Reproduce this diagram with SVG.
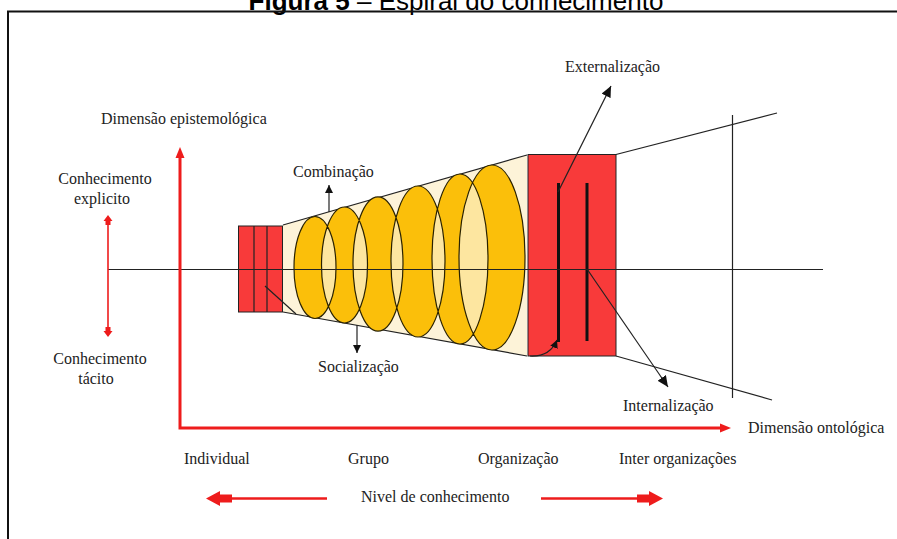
<svg xmlns="http://www.w3.org/2000/svg" width="897" height="539" viewBox="0 0 897 539">
<style>
.t{font-family:"Liberation Serif","Times New Roman",serif;font-size:16px;fill:#222}
.ln{stroke:#222;stroke-width:1.2;fill:none}
.red{fill:#f83a3a;stroke:#222;stroke-width:1}
.rax{stroke:#ee1c1c;fill:none}
.rh{fill:#ee1c1c}
</style>
<defs>
<marker id="ah" markerUnits="userSpaceOnUse" markerWidth="12" markerHeight="10" refX="11" refY="5" orient="auto">
<path d="M0,0 L11,5 L0,10 Z" fill="#111"/>
</marker>
<marker id="ahs" markerUnits="userSpaceOnUse" markerWidth="9" markerHeight="8" refX="8" refY="4" orient="auto">
<path d="M0,0 L8,4 L0,8 Z" fill="#111"/>
</marker>
</defs>
<rect width="897" height="539" fill="#fff"/>
<g id="title">
<text x="456" y="10" text-anchor="middle" font-family="'Liberation Sans',Arial,sans-serif" font-size="26" fill="#000"><tspan font-weight="bold">Figura 5</tspan> – Espiral do conhecimento</text>
</g>
<path id="frame" d="M8,539 V11.5 H897" stroke="#111" stroke-width="2" fill="none"/>

<g id="cone">
<polygon points="283,225 527,155 527,356 283,312" fill="#fdf3d8"/>
<line class="ln" x1="283" y1="225" x2="527" y2="155"/>
<line class="ln" x1="283" y1="312" x2="527" y2="356"/>
</g>
<g id="spiral">
<g fill="#fde6a0">
<ellipse cx="315" cy="267.5" rx="21" ry="51"/>
<ellipse cx="344.5" cy="265" rx="23" ry="58"/>
<ellipse cx="378" cy="264" rx="25" ry="67"/>
<ellipse cx="418" cy="261.5" rx="27" ry="75.5"/>
<ellipse cx="460" cy="259" rx="28" ry="85"/>
<ellipse cx="492" cy="257.5" rx="33" ry="92.5"/>
</g>
<path fill="#fbbf0a" fill-rule="evenodd" stroke="#2a2200" stroke-width="1.2" d="M294,267.5 a21,51 0 1,0 42,0 a21,51 0 1,0 -42,0 Z M321.5,265 a23,58 0 1,0 46,0 a23,58 0 1,0 -46,0 Z M353,264 a25,67 0 1,0 50,0 a25,67 0 1,0 -50,0 Z M391,261.5 a27,75.5 0 1,0 54,0 a27,75.5 0 1,0 -54,0 Z M432,259 a28,85 0 1,0 56,0 a28,85 0 1,0 -56,0 Z M459,257.5 a33,92.5 0 1,0 66,0 a33,92.5 0 1,0 -66,0 Z"/>
</g>
<g id="individual-box">
<rect class="red" x="238.5" y="226" width="44" height="86"/>
<line class="ln" x1="254" y1="226" x2="254" y2="312"/>
<line class="ln" x1="267" y1="226" x2="267" y2="312"/>
</g>
<g id="organization-box">
<rect class="red" x="528" y="154.5" width="88" height="201.5"/>
<line x1="558.5" y1="183" x2="558.5" y2="342" stroke="#111" stroke-width="3"/>
<line x1="587" y1="183" x2="587" y2="341" stroke="#111" stroke-width="3"/>
</g>
<g id="inter-org">
<line class="ln" x1="616" y1="154.5" x2="777" y2="113"/>
<line class="ln" x1="616" y1="356" x2="772" y2="400"/>
<line class="ln" x1="732.5" y1="115" x2="732.5" y2="398"/>
</g>

<g id="connectors">
<line class="ln" x1="108" y1="269.5" x2="823" y2="269.5"/>
<line class="ln" x1="265" y1="286" x2="296" y2="314"/>
<line class="ln" x1="329" y1="212" x2="329" y2="185" marker-end="url(#ahs)"/>
<line class="ln" x1="357" y1="325" x2="357" y2="353" marker-end="url(#ahs)"/>
<line class="ln" x1="558" y1="192" x2="611" y2="86" marker-end="url(#ah)"/>
<line class="ln" x1="587" y1="269" x2="668" y2="387" marker-end="url(#ah)"/>
<path class="ln" d="M530,356 Q550,357 557,340" marker-end="url(#ahs)"/>
<path class="rax" stroke-width="3" d="M180,157 V428 H721"/>
<polygon class="rh" points="180,147 175.5,158 184.5,158"/>
<polygon class="rh" points="731,428 720,423.5 720,432.5"/>
<line class="rax" stroke-width="1.6" x1="108" y1="222" x2="108" y2="330"/>
<polygon class="rh" points="108,215 112.5,221 110.5,221 110.5,225 105.5,225 105.5,221 103.5,221"/>
<polygon class="rh" points="108,337 112.5,331 110.5,331 110.5,327 105.5,327 105.5,331 103.5,331"/>
<line class="rax" stroke-width="2.5" x1="228" y1="498.5" x2="327" y2="498.5"/>
<polygon class="rh" points="206,498.5 220,491 220,494.5 232,494.5 232,502.5 220,502.5 220,506"/>
<line class="rax" stroke-width="2.5" x1="541" y1="498.5" x2="640" y2="498.5"/>
<polygon class="rh" points="663,498.5 649,491 649,494.5 637,494.5 637,502.5 649,502.5 649,506"/>
</g>

<g id="labels">
<text class="t" x="101" y="124">Dimensão epistemológica</text>
<text class="t" x="105" y="184" text-anchor="middle">Conhecimento</text>
<text class="t" x="102" y="204" text-anchor="middle">explicito</text>
<text class="t" x="100" y="364" text-anchor="middle">Conhecimento</text>
<text class="t" x="96" y="384" text-anchor="middle">tácito</text>
<text class="t" x="293" y="177">Combinação</text>
<text class="t" x="318" y="372">Socialização</text>
<text class="t" x="565" y="72">Externalização</text>
<text class="t" x="623" y="411">Internalização</text>
<text class="t" x="748" y="433">Dimensão ontológica</text>
<text class="t" x="184" y="464">Individual</text>
<text class="t" x="348" y="464">Grupo</text>
<text class="t" x="478" y="464">Organização</text>
<text class="t" x="619" y="464">Inter organizações</text>
<text class="t" x="361" y="502">Nivel de conhecimento</text>
</g>
</svg>
